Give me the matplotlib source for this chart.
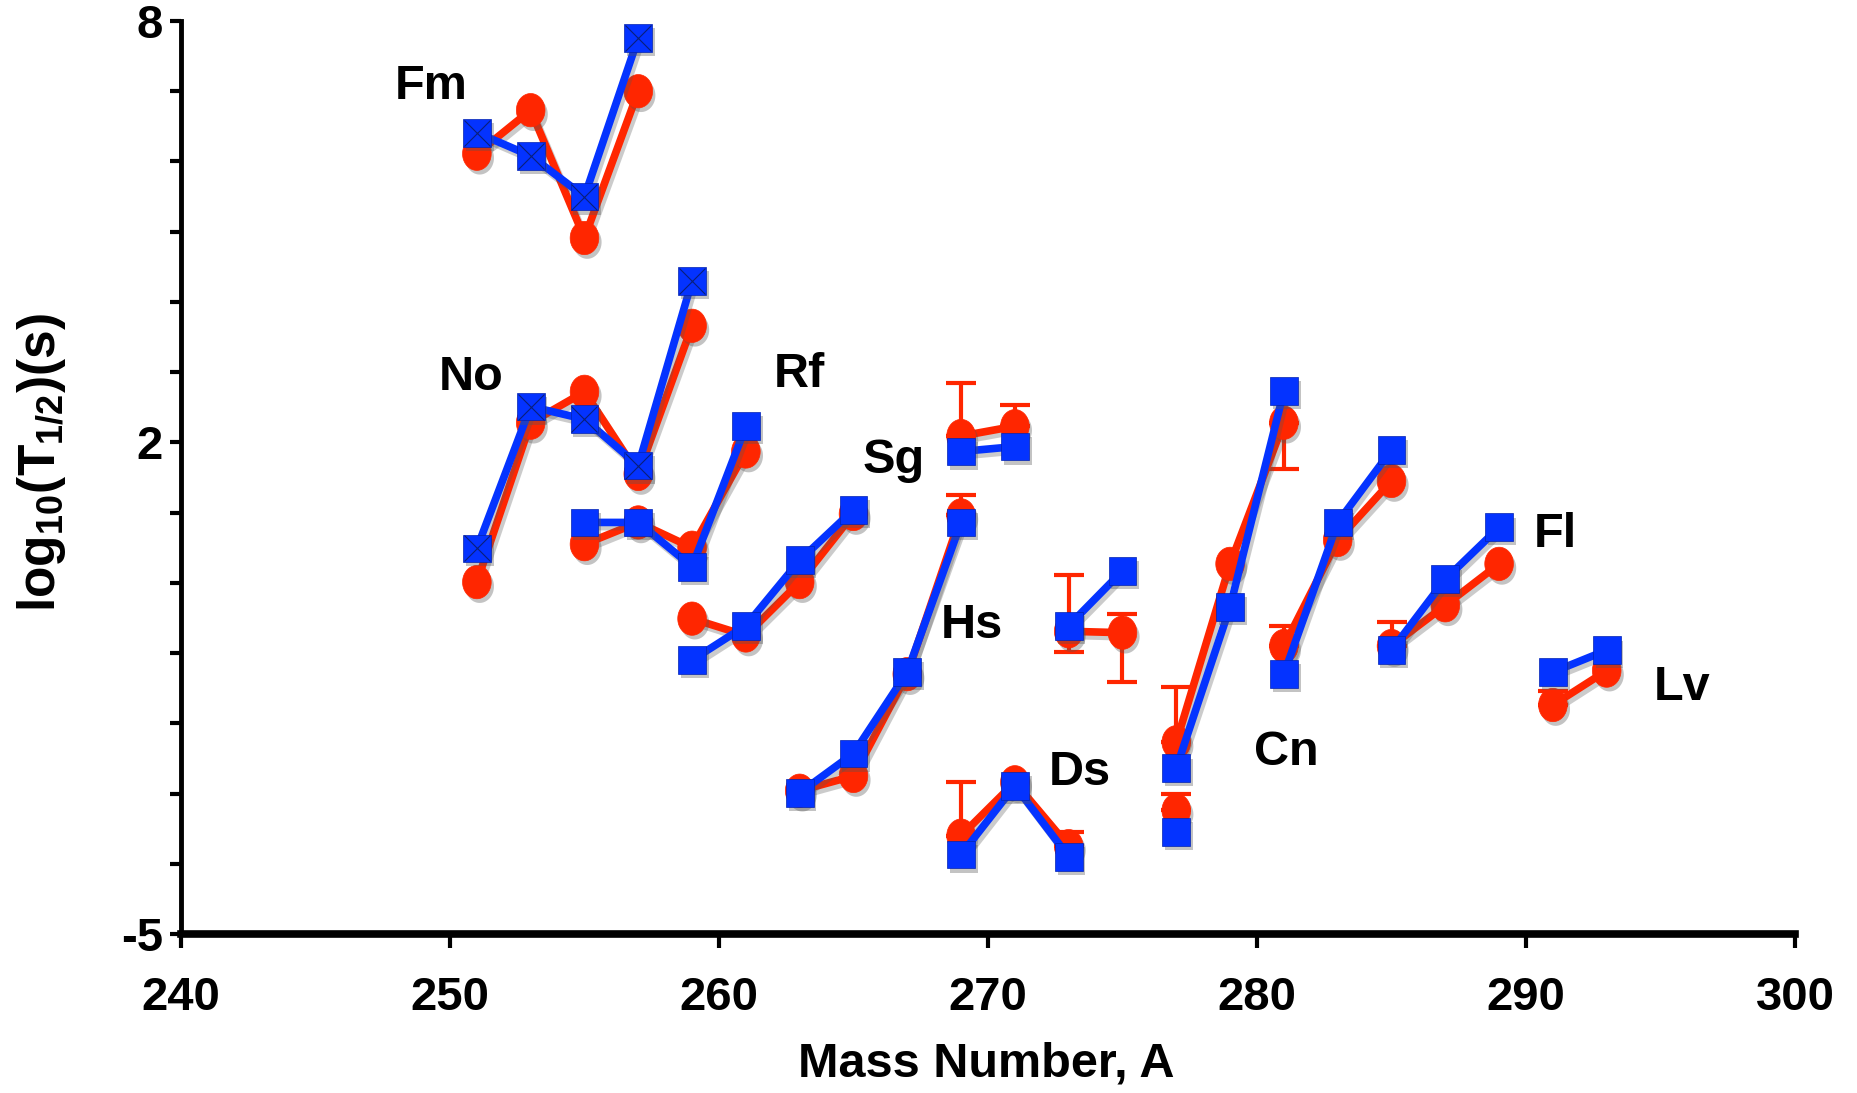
import numpy as np
import matplotlib
matplotlib.use('Agg')
import matplotlib.pyplot as plt
import matplotlib.patheffects as pe
from matplotlib.ticker import FixedLocator, FixedFormatter

plt.rcParams['font.family'] = 'Liberation Sans'
plt.rcParams['font.weight'] = 'bold'
plt.rcParams['mathtext.fontset'] = 'custom'
plt.rcParams['mathtext.rm'] = 'Liberation Sans:bold'
plt.rcParams['mathtext.bf'] = 'Liberation Sans:bold'
plt.rcParams['mathtext.it'] = 'Liberation Sans:bold'

RED = '#FF2600'
BLUE = '#0433FF'

# half-lives, log10(T1/2 / s), red = experiment, blue = calculation
fm_a = [251, 253, 255, 257]
fm_red = [6.11, 6.73, 4.91, 7.00]
fm_blue = [6.41, 6.08, 5.50, 7.76]

no_a = [251, 253, 255, 257, 259]
no_red = [0.01, 2.28, 2.72, 1.55, 3.66]
no_blue = [0.49, 2.51, 2.33, 1.67, 4.30]

rf_a = [255, 257, 259, 261]
rf_red = [0.55, 0.86, 0.50, 1.87]
rf_blue = [0.86, 0.86, 0.23, 2.23]

sg_a = [259, 261, 263, 265]
sg_red = [-0.51, -0.75, 0.01, 0.98]
sg_blue = [-1.10, -0.61, 0.32, 1.04]

sg2_a = [269, 271]
sg2_red = [2.09, 2.23]
sg2_blue = [1.87, 1.94]

hs_a = [263, 265, 267, 269]
hs_red = [-2.96, -2.75, -1.30, 0.96]
hs_blue = [-2.99, -2.43, -1.27, 0.86]

hs2_a = [273, 275]
hs2_red = [-0.69, -0.71]
hs2_blue = [-0.61, 0.17]

ds_a = [269, 271, 273]
ds_red = [-3.60, -2.84, -3.75]
ds_blue = [-3.87, -2.89, -3.90]

ds2_a = [277, 279, 281]
ds2_red = [-2.27, 0.27, 2.28]
ds2_blue = [-2.64, -0.34, 2.73]

cn_a = [277]
cn_red = [-3.24]
cn_blue = [-3.55]

cn2_a = [281, 283, 285]
cn2_red = [-0.90, 0.61, 1.45]
cn2_blue = [-1.30, 0.86, 1.89]

fl_a = [285, 287, 289]
fl_red = [-0.90, -0.32, 0.27]
fl_blue = [-0.96, 0.05, 0.79]

lv_a = [291, 293]
lv_red = [-1.74, -1.25]
lv_blue = [-1.27, -0.96]

# experimental uncertainties (red)
err_a = [269, 271, 269, 269, 273, 273, 275, 277, 281, 277, 281, 285, 291]
err_y = [2.09, 2.23, 0.96, -3.60, -3.75, -0.69, -0.71, -2.27, 2.28, -3.24, -0.90, -0.90, -1.74]
err_lo = [0, 0, 0, 0, 0, 0.30, 0.70, 0, 0.66, 0, 0, 0, 0]
err_hi = [0.76, 0.30, 0.29, 0.76, 0.20, 0.80, 0.27, 0.78, 0, 0.24, 0.29, 0.34, 0.20]

elements = ['Fm', 'No', 'Rf', 'Sg', 'Hs', 'Ds', 'Cn', 'Fl', 'Lv']
label_a = [249.3, 250.8, 263.0, 266.5, 269.4, 273.4, 281.1, 291.1, 295.8]
label_y = [7.07, 2.93, 2.97, 1.74, -0.61, -2.70, -2.42, 0.69, -1.49]

groups = [(fm_a, fm_red, fm_blue, True), (no_a, no_red, no_blue, True),
          (rf_a, rf_red, rf_blue, False), (sg_a, sg_red, sg_blue, False),
          (sg2_a, sg2_red, sg2_blue, False), (hs_a, hs_red, hs_blue, False),
          (hs2_a, hs2_red, hs2_blue, False), (ds_a, ds_red, ds_blue, False),
          (ds2_a, ds2_red, ds2_blue, False), (cn_a, cn_red, cn_blue, False),
          (cn2_a, cn2_red, cn2_blue, False), (fl_a, fl_red, fl_blue, False),
          (lv_a, lv_red, lv_blue, False)]

fig = plt.figure(figsize=(18.58, 10.93), dpi=100)
ax = fig.add_axes([0.0974, 0.1455, 0.8687, 0.8353])

line_shadow = [pe.SimpleLineShadow(offset=(2, -3), shadow_color='#555555', alpha=0.3), pe.Normal()]
mark_shadow = [pe.SimplePatchShadow(offset=(2, -3), shadow_rgbFace='#555555', alpha=0.35), pe.Normal()]
t = np.linspace(0, 2 * np.pi, 60)
oval = list(zip(0.86 * np.cos(t), np.sin(t)))

ax.errorbar(err_a, err_y, yerr=[err_lo, err_hi], fmt='none', ecolor=RED,
            elinewidth=3, capsize=11, capthick=3, zorder=1.5)

for a, r, b, crossed in groups:
    ax.plot(a, r, '-', color=RED, lw=5.5, zorder=2, path_effects=line_shadow)
    ax.plot(a, r, ls='none', marker=oval, color=RED, ms=24, mec=RED, mew=0.5,
            zorder=2.5, path_effects=mark_shadow, clip_on=False)
for a, r, b, crossed in groups:
    ax.plot(a, b, '-', color=BLUE, lw=5.5, zorder=4, path_effects=line_shadow)
    ax.plot(a, b, ls='none', marker='s', color=BLUE, ms=20, mec='#0222b0', mew=0.5,
            zorder=4.5, path_effects=mark_shadow, clip_on=False)
    if crossed:
        ax.plot(a, b, 'x', color='#0a1f7a', ms=19, mew=0.8, ls='none', zorder=5, clip_on=False)

for name, xa, ya in zip(elements, label_a, label_y):
    ax.text(xa, ya, name, fontsize=35, fontweight='bold', ha='center', va='center')

ax.set_xlim(240, 300)
ax.set_ylim(-5, 8)
ax.spines['top'].set_visible(False)
ax.spines['right'].set_visible(False)
ax.spines['left'].set_linewidth(3.5)
ax.spines['bottom'].set_linewidth(5.5)

ax.xaxis.set_major_locator(FixedLocator([240, 250, 260, 270, 280, 290, 300]))
ax.yaxis.set_major_locator(FixedLocator(list(range(-5, 9))))
ylabels = ['' for v in range(-5, 9)]
ylabels[0] = '-5'
ylabels[7] = '2'
ylabels[13] = '8'
ax.yaxis.set_major_formatter(FixedFormatter(ylabels))
ax.tick_params(axis='x', direction='out', length=10, width=3, pad=20, labelsize=34)
ax.tick_params(axis='y', direction='out', length=8, width=3, pad=5, labelsize=34)
for lab in ax.get_xticklabels() + ax.get_yticklabels():
    lab.set_fontweight('bold')

fig.text(0.531, 0.0265, 'Mass Number, A', fontsize=35, fontweight='bold', ha='center', va='center')
fig.text(0.0222, 0.577, r'log$_{10}$(T$_{1/2}$)(s)', fontsize=37, fontweight='bold',
         ha='center', va='center', rotation=90)

fig.savefig('out.png', dpi=100)
